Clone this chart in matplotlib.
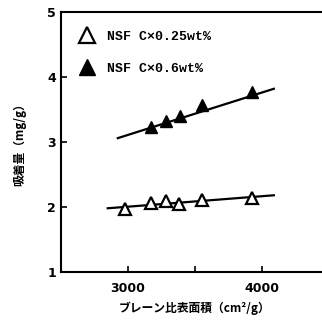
import numpy as np
import matplotlib
matplotlib.use("Agg")
import matplotlib.pyplot as plt

plt.rcParams['font.family'] = ['Noto Sans CJK JP', 'DejaVu Sans']

# ブレーン比表面積 (cm2/g) vs 吸着量 (mg/g)
x_low = [2980, 3172, 3284, 3380, 3552, 3925]
y_low = [1.97, 2.06, 2.09, 2.05, 2.11, 2.14]
x_high = [3172, 3284, 3388, 3552, 3925]
y_high = [3.23, 3.32, 3.40, 3.57, 3.77]
# regression lines as drawn in the figure
fit_low_x = [2850, 4090]
fit_low_y = [1.98, 2.18]
fit_high_x = [2925, 4090]
fit_high_y = [3.06, 3.82]

fig = plt.figure(figsize=(3.22, 3.28), dpi=100)
ax = fig.add_axes([0.189, 0.171, 0.832, 0.792])

ax.plot(fit_low_x, fit_low_y, color='black', lw=1.6)
ax.plot(fit_high_x, fit_high_y, color='black', lw=1.6)

ax.plot(x_low, y_low, ls='none', marker='^', ms=9, mfc='white', mec='black', mew=1.6,
        label='NSF C×0.25wt%')
ax.plot(x_high, y_high, ls='none', marker='^', ms=9, mfc='black', mec='black',
        label='NSF C×0.6wt%')

ax.set_xlim(2500, 4500)
ax.set_ylim(1, 5)
ax.set_xticks([3000, 3500, 4000])
ax.set_xticklabels(['3000', '', '4000'])
ax.set_yticks([1, 2, 3, 4, 5])
ax.tick_params(direction='in', length=4, width=1.2, labelsize=9)
ax.tick_params(axis='x', pad=7)
for lbl in ax.get_xticklabels() + ax.get_yticklabels():
    lbl.set_fontweight('bold')
    lbl.set_family('DejaVu Sans')
for s in ax.spines.values():
    s.set_linewidth(1.5)

ax.set_xlabel('ブレーン比表面積（cm²/g）', fontsize=8.5, fontweight='bold', labelpad=5)
ax.set_ylabel('吸着量（mg/g）', fontsize=8.5, fontweight='bold', labelpad=15)

leg = ax.legend(loc='upper left', frameon=False, labelspacing=1.5, markerscale=1.3,
                handlelength=1.2, handletextpad=0.9, borderaxespad=1.0,
                prop={'family': 'Liberation Mono', 'size': 9.5, 'weight': 'bold'})

fig.savefig('out.png', dpi=100)
